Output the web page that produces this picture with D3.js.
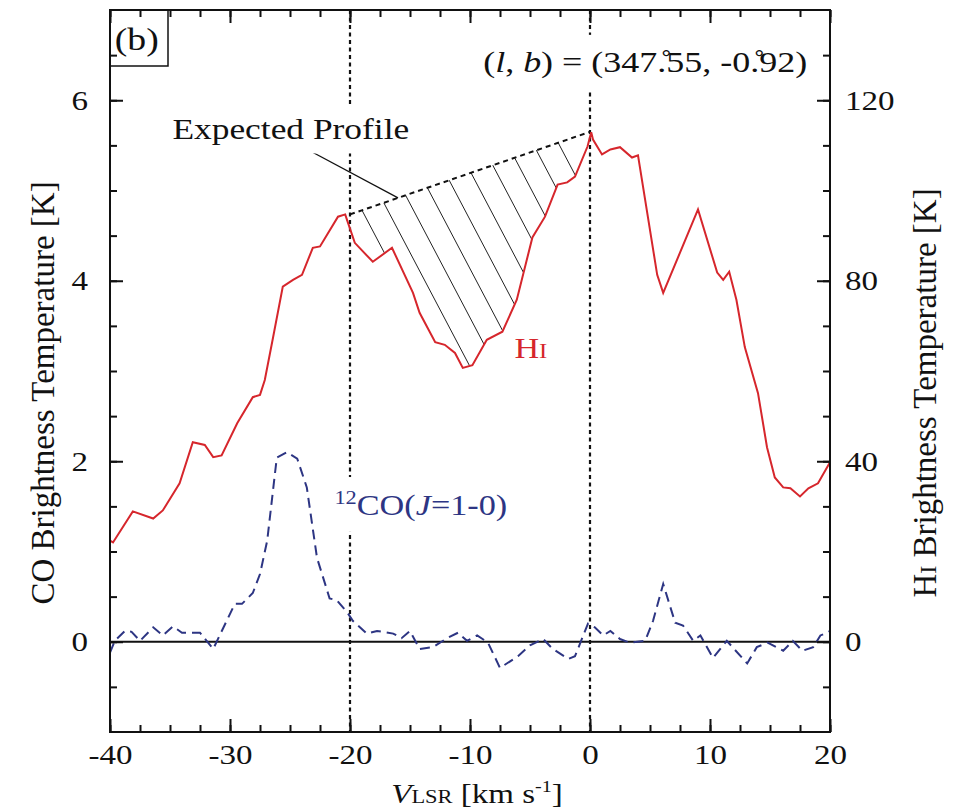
<!DOCTYPE html>
<html>
<head>
<meta charset="utf-8">
<script src="https://cdn.jsdelivr.net/npm/d3@7"></script>
<style>
body { margin: 0; background: #fff; }
svg text { font-family: "Liberation Serif", "Times New Roman", serif; }
</style>
</head>
<body>
<div id="chart"></div>
<script>

// HI spectrum (right axis, K)
var hiVel = [-40, -39.75, -38.1, -36.4, -35.6, -34.2, -33.1, -32.1, -31.4, -30.7, -29.4, -28.1, -27.5, -27.1, -26.4,
	-25.6, -24.75, -24.0, -23.1, -22.5, -21.0, -20.4, -20.2, -19.6, -18.1, -16.5, -14.75, -14.2, -12.9, -12.1,
	-11.25, -10.6, -9.8, -8.6, -7.3, -6.1, -4.8, -3.75, -2.7, -1.9, -1.25, -0.2, 0.1, 0.25, 1.0,
	1.7, 2.5, 3.5, 4.0, 5.6, 6.1, 9.0, 10.6, 11.1, 11.6, 12.2, 12.9, 14.0, 14.75, 15.4,
	16.1, 16.7, 17.5, 18.2, 19.0, 20.0];
var hiTemp = [22.4, 22.0, 28.9, 27.3, 29.1, 35.1, 44.2, 43.6, 40.9, 41.3, 48.4, 54.2, 54.7, 58.0, 67.6,
	78.7, 80.2, 81.3, 87.3, 87.6, 94.2, 94.7, 93.1, 88.4, 84.2, 87.3, 77.3, 72.9, 66.4, 65.8,
	64.0, 60.7, 61.3, 66.9, 68.7, 75.8, 89.6, 94.2, 101.3, 101.8, 103.1, 109.8, 112.9, 111.3, 108.0,
	109.1, 109.6, 107.3, 107.8, 81.3, 77.3, 95.8, 81.8, 80.2, 82.0, 75.8, 65.3, 55.1, 43.1, 36.4,
	34.2, 34.0, 32.2, 34.0, 35.1, 39.8];

// 12CO spectrum (left axis, K)
var coVel = [-40, -39.6, -38.75, -38.2, -37.5, -36.4, -35.6, -34.75, -34.0, -32.5, -31.4, -29.6, -29.0, -28.1, -27.5,
	-26.9, -26.1, -25.25, -24.4, -23.6, -22.75, -21.7, -21.1, -20.2, -19.75, -18.6, -17.75, -16.4, -15.7, -15.0,
	-14.2, -13.1, -11.9, -11.0, -10.25, -9.4, -8.5, -7.5, -6.0, -5.0, -3.9, -3.1, -1.8, -1.25, -0.17,
	0.4, 1.1, 1.7, 2.5, 3.3, 4.6, 5.25, 6.1, 7.1, 7.75, 8.6, 9.2, 10.25, 11.4, 13.1,
	13.9, 14.8, 16.1, 16.9, 17.7, 18.6, 19.2, 19.75, 20.0];
var coTemp = [-0.12, 0.01, 0.12, 0.11, 0.01, 0.16, 0.07, 0.17, 0.10, 0.10, -0.08, 0.42, 0.42, 0.54, 0.75,
	1.12, 2.04, 2.10, 2.03, 1.71, 0.93, 0.48, 0.46, 0.32, 0.23, 0.09, 0.12, 0.09, 0.04, 0.12,
	-0.08, -0.06, 0.04, 0.10, 0.01, 0.07, -0.01, -0.29, -0.16, -0.04, 0.03, -0.08, -0.19, -0.16, 0.20,
	0.16, 0.07, 0.12, 0.03, -0.01, 0.01, 0.23, 0.64, 0.21, 0.18, 0.01, 0.07, -0.18, 0.01, -0.24,
	-0.06, -0.01, -0.10, 0.01, -0.10, -0.06, 0.07, 0.10, 0.12];

// expected HI profile (straight line between the two peaks)
var expVel = [-20, 0];
var expTemp = [94.7, 113];

// vertical marker velocities
var markVel = [-20, 0];

var xTicks = [-40, -30, -20, -10, 0, 10, 20];
var coTicks = [0, 2, 4, 6];
var hiTicks = [0, 40, 80, 120];

var width = 953, height = 811;
var margin = { top: 10, left: 110, right: 123, bottom: 79 };
var x0 = margin.left, x1 = width - margin.right, y0 = margin.top, y1 = height - margin.bottom;

var red = "#d6262c", navy = "#2d3583";
var sx = 1.18; // the figure is a bit wide, stretch the lettering

var svg = d3.select("#chart").append("svg")
	.attr("width", width).attr("height", height);

var x = d3.scaleLinear().domain([-40, 20]).range([x0, x1]);
var yCO = d3.scaleLinear().domain([-1, 7]).range([y1, y0]);
var yHI = d3.scaleLinear().domain([-20, 140]).range([y1, y0]);

var hiData = hiVel.map((v, i) => [v, hiTemp[i]]);
var coData = coVel.map((v, i) => [v, coTemp[i]]);

svg.append("clipPath").attr("id", "plotclip")
	.append("rect").attr("x", x0).attr("y", y0).attr("width", x1 - x0).attr("height", y1 - y0);

var plot = svg.append("g").attr("clip-path", "url(#plotclip)");

// hatched region between the expected profile and the HI dip
var expLine = d3.scaleLinear().domain(expVel).range(expTemp);
var inside = hiData.filter(d => d[0] > expVel[0] && d[0] < expVel[1]);
var hiAt = d3.scaleLinear().domain(hiVel).range(hiTemp);
var poly = [[expVel[0], expTemp[0]], [expVel[1], expTemp[1]], [expVel[1], hiAt(expVel[1])]]
	.concat(inside.slice().reverse())
	.concat([[expVel[0], hiAt(expVel[0])]])
	.map(d => [x(d[0]), yHI(d[1])]);

svg.append("clipPath").attr("id", "hatchclip")
	.append("polygon").attr("points", poly.map(p => p.join(",")).join(" "));

var hatch = plot.append("g").attr("clip-path", "url(#hatchclip)");
var step = 21.8, slope = 1.9;
for (var px = x(expVel[0]) + 12; px < x(expVel[1]) - 20; px += step) {
	var py = yHI(expLine(x.invert(px)));
	hatch.append("line")
		.attr("x1", px - 5).attr("y1", py - 5 * slope)
		.attr("x2", px + 120).attr("y2", py + 120 * slope)
		.attr("stroke", "#222").attr("stroke-width", 1);
}

// zero line
plot.append("line")
	.attr("x1", x0).attr("x2", x1).attr("y1", yCO(0)).attr("y2", yCO(0))
	.attr("stroke", "#111").attr("stroke-width", 2);

// dotted markers
plot.selectAll(".mark").data(markVel).join("line")
	.attr("class", "mark")
	.attr("x1", d => x(d)).attr("x2", d => x(d))
	.attr("y1", y0).attr("y2", y1)
	.attr("stroke", "#111").attr("stroke-width", 2.2)
	.attr("stroke-dasharray", "4,3.5");

// expected profile
plot.append("path")
	.datum(expVel.map((v, i) => [v, expTemp[i]]))
	.attr("d", d3.line().x(d => x(d[0])).y(d => yHI(d[1])))
	.attr("fill", "none").attr("stroke", "#111").attr("stroke-width", 2)
	.attr("stroke-dasharray", "5,4");

// CO
plot.append("path")
	.datum(coData)
	.attr("d", d3.line().x(d => x(d[0])).y(d => yCO(d[1])))
	.attr("fill", "none").attr("stroke", navy).attr("stroke-width", 2)
	.attr("stroke-dasharray", "10,6");

// HI
plot.append("path")
	.datum(hiData)
	.attr("d", d3.line().x(d => x(d[0])).y(d => yHI(d[1])))
	.attr("fill", "none").attr("stroke", red).attr("stroke-width", 2);

// leader for "Expected Profile"
var leadFrom = [-23.9, 5.48], leadTo = -16;
svg.append("line")
	.attr("x1", x(leadFrom[0])).attr("y1", yCO(leadFrom[1]))
	.attr("x2", x(leadTo)).attr("y2", yHI(expLine(leadTo)))
	.attr("stroke", "#111").attr("stroke-width", 1.2);

// labels, with a white patch behind so the dotted lines break
function label(px, py, anchor, color, size, build, pad) {
	var g = svg.append("g").attr("transform", "translate(" + px + "," + py + ")");
	var bg = g.append("rect").attr("fill", "white");
	var t = g.append("g").attr("transform", "scale(" + sx + ",1)").append("text")
		.attr("text-anchor", anchor).attr("fill", color).attr("font-size", size);
	build(t);
	if (pad) {
		var b = t.node().getBBox();
		bg.attr("x", b.x * sx - pad[0]).attr("y", b.y - pad[1])
			.attr("width", b.width * sx + 2 * pad[0]).attr("height", b.height + 2 * pad[1]);
	} else bg.remove();
	return t;
}

label(x(-34.8), yCO(5.57), "start", "#111", 30, t => t.text("Expected Profile"), [4, 8]);

// degree ring sits over the decimal point (combining ring above)
label(x(18.1), yCO(6.31), "end", "#111", 30.5, t => {
	t.append("tspan").text("(");
	t.append("tspan").attr("font-style", "italic").text("l");
	t.append("tspan").text(", ");
	t.append("tspan").attr("font-style", "italic").text("b");
	t.append("tspan").text(") = (347.\u030A55, -0.\u030A92)");
}, [4, 10]);

label(x(-6.3), yCO(3.14), "start", red, 29, t => {
	t.append("tspan").text("H");
	t.append("tspan").attr("font-size", 21).text("I");
});

label(x(-21.3), yCO(1.40), "start", navy, 29, t => {
	t.append("tspan").attr("font-size", 19).attr("dy", -11).text("12");
	t.append("tspan").attr("dy", 11).text("CO(");
	t.append("tspan").attr("font-style", "italic").text("J");
	t.append("tspan").text("=1-0)");
}, [2, 10]);

// panel tag
svg.append("rect")
	.attr("x", x0).attr("y", y0).attr("width", 58).attr("height", 56)
	.attr("fill", "white").attr("stroke", "#111").attr("stroke-width", 1.5);
label(x(-39.6), yCO(6.56), "start", "#111", 32, t => t.text("(b)"));

// axes
function ticksEvery(lo, hi, s) { return d3.range(lo, hi + s / 2, s); }

function drawAxis(axis, tx, ty) {
	var g = svg.append("g").attr("transform", "translate(" + tx + "," + ty + ")").call(axis);
	g.select(".domain").remove();
	g.selectAll("line").attr("stroke", "#111").attr("stroke-width", 2);
	g.selectAll("text").attr("font-size", 28).attr("fill", "#111")
		.attr("font-family", "Liberation Serif, Times New Roman, serif");
	return g;
}

var fmt = d => String(d).replace("\u2212", "-");

// bottom
var gb = drawAxis(d3.axisBottom(x).tickValues(xTicks).tickSize(-13).tickPadding(12).tickFormat(fmt), 0, y1);
gb.selectAll("text").attr("transform", "scale(" + sx + ",1)");
drawAxis(d3.axisBottom(x).tickValues(ticksEvery(-40, 20, 2.5)).tickSize(-7).tickFormat(""), 0, y1);
// top
drawAxis(d3.axisTop(x).tickValues(xTicks).tickSize(-13).tickFormat(""), 0, y0);
drawAxis(d3.axisTop(x).tickValues(ticksEvery(-40, 20, 2.5)).tickSize(-7).tickFormat(""), 0, y0);
// left
var gl = drawAxis(d3.axisLeft(yCO).tickValues(coTicks).tickSize(-13).tickPadding(22).tickFormat(fmt), x0, 0);
gl.selectAll("text").attr("transform", "scale(" + sx + ",1)").attr("x", -22 / sx);
drawAxis(d3.axisLeft(yCO).tickValues(ticksEvery(-0.5, 6.5, 0.5)).tickSize(-7).tickFormat(""), x0, 0);
// right
var gr = drawAxis(d3.axisRight(yHI).tickValues(hiTicks).tickSize(-13).tickPadding(15).tickFormat(fmt), x1, 0);
gr.selectAll("text").attr("transform", "scale(" + sx + ",1)").attr("x", 15 / sx);
drawAxis(d3.axisRight(yHI).tickValues(ticksEvery(-10, 130, 10)).tickSize(-7).tickFormat(""), x1, 0);

// frame
svg.append("rect")
	.attr("x", x0).attr("y", y0).attr("width", x1 - x0).attr("height", y1 - y0)
	.attr("fill", "none").attr("stroke", "#111").attr("stroke-width", 2);

// axis titles
label((x0 + x1) / 2 + 7, 803, "middle", "#111", 28, t => {
	t.append("tspan").attr("font-style", "italic").text("V");
	t.append("tspan").attr("font-size", 19).text("LSR");
	t.append("tspan").text(" [km s");
	t.append("tspan").attr("font-size", 17).attr("dy", -11).text("-1");
	t.append("tspan").attr("dy", 11).text("]");
});

svg.append("text")
	.attr("transform", "translate(54," + ((y0 + y1) / 2 + 22) + ") rotate(-90)")
	.attr("text-anchor", "middle").attr("font-size", 33).attr("fill", "#111")
	.text("CO Brightness Temperature [K]");

var rt = svg.append("text")
	.attr("transform", "translate(936," + ((y0 + y1) / 2 + 22) + ") rotate(-90)")
	.attr("text-anchor", "middle").attr("font-size", 33).attr("fill", "#111");
rt.append("tspan").text("H");
rt.append("tspan").attr("font-size", 24).text("I");
rt.append("tspan").text(" Brightness Temperature [K]");

</script>
</body>
</html>
